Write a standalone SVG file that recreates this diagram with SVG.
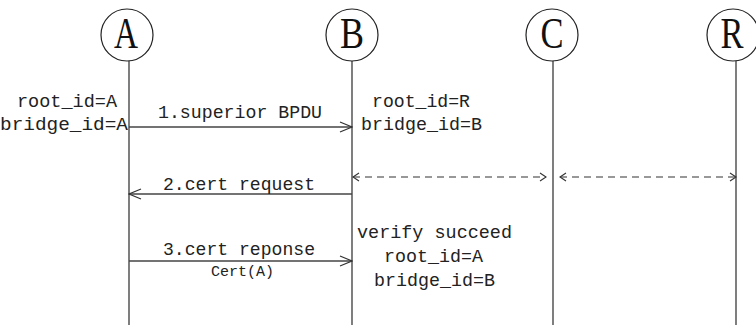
<svg xmlns="http://www.w3.org/2000/svg" width="756" height="325" viewBox="0 0 756 325">
  <defs>
    <style>
      .life { stroke: #3a3a3a; stroke-width: 1.3; fill: none; }
      .head { fill: #fff; stroke: #222; stroke-width: 1.2; }
      .big { font-family: "Liberation Serif", serif; font-size: 45px; fill: #111; text-anchor: middle; }
      .t { font-family: "Liberation Mono", monospace; font-size: 18px; fill: #222; }
      .s { font-family: "Liberation Mono", monospace; font-size: 15px; fill: #222; }
      .msg { stroke: #444; stroke-width: 1.3; fill: none; }
      .dash { stroke: #333; stroke-width: 1.1; fill: none; stroke-dasharray: 7 5; }
    </style>
    <marker id="open" markerWidth="14" markerHeight="12" refX="13" refY="6" orient="auto-start-reverse" markerUnits="userSpaceOnUse">
      <path d="M1,1 L13,6 L1,11" fill="none" stroke="#333" stroke-width="1.2"/>
    </marker>
    <marker id="small" markerWidth="8" markerHeight="10" refX="7" refY="5" orient="auto-start-reverse" markerUnits="userSpaceOnUse">
      <path d="M1,1 L7,5 L1,9" fill="none" stroke="#333" stroke-width="1.1"/>
    </marker>
  </defs>

  <!-- participants -->
  <g id="node-A">
    <line class="life" x1="129" y1="61" x2="129" y2="325"/>
    <circle class="head" cx="127" cy="35" r="26"/>
    <text class="big" x="126" y="48" textLength="24" lengthAdjust="spacingAndGlyphs">A</text>
    <text class="t" x="17" y="107" textLength="100" lengthAdjust="spacingAndGlyphs">root_id=A</text>
    <text class="t" x="0" y="130" textLength="128" lengthAdjust="spacingAndGlyphs">bridge_id=A</text>
  </g>
  <g id="node-B">
    <line class="life" x1="352" y1="61" x2="352" y2="325"/>
    <circle class="head" cx="352" cy="35" r="26"/>
    <text class="big" x="352" y="48" textLength="24" lengthAdjust="spacingAndGlyphs">B</text>
    <text class="t" x="372" y="107" textLength="98" lengthAdjust="spacingAndGlyphs">root_id=R</text>
    <text class="t" x="361" y="130" textLength="121" lengthAdjust="spacingAndGlyphs">bridge_id=B</text>
    <text class="t" x="357" y="238" textLength="155" lengthAdjust="spacingAndGlyphs">verify succeed</text>
    <text class="t" x="384" y="262" textLength="99" lengthAdjust="spacingAndGlyphs">root_id=A</text>
    <text class="t" x="374" y="286" textLength="121" lengthAdjust="spacingAndGlyphs">bridge_id=B</text>
  </g>
  <g id="node-C">
    <line class="life" x1="553" y1="61" x2="553" y2="325" stroke="#666"/>
    <circle class="head" cx="552" cy="35" r="26"/>
    <text class="big" x="552" y="48" textLength="23" lengthAdjust="spacingAndGlyphs">C</text>
  </g>
  <g id="node-R">
    <line class="life" x1="736" y1="61" x2="736" y2="325" stroke="#111"/>
    <circle class="head" cx="733" cy="35" r="26"/>
    <text class="big" x="732" y="48" textLength="23" lengthAdjust="spacingAndGlyphs">R</text>
  </g>

  <!-- messages -->
  <g id="connectors">
    <line class="msg" x1="129" y1="127" x2="352" y2="127" marker-end="url(#open)"/>
    <text class="t" x="158" y="118" textLength="164" lengthAdjust="spacingAndGlyphs">1.superior BPDU</text>

    <line class="dash" x1="353" y1="177" x2="546" y2="177" marker-start="url(#small)" marker-end="url(#small)"/>
    <line class="dash" x1="560" y1="177" x2="736" y2="177" marker-start="url(#small)" marker-end="url(#small)"/>

    <line class="msg" x1="352" y1="194" x2="129" y2="194" marker-end="url(#open)"/>
    <text class="t" x="163" y="190" textLength="152" lengthAdjust="spacingAndGlyphs">2.cert request</text>

    <line class="msg" x1="129" y1="261" x2="352" y2="261" marker-end="url(#open)"/>
    <text class="t" x="163" y="255" textLength="152" lengthAdjust="spacingAndGlyphs">3.cert reponse</text>
    <text class="s" x="211" y="276" textLength="63" lengthAdjust="spacingAndGlyphs">Cert(A)</text>
  </g>
</svg>
